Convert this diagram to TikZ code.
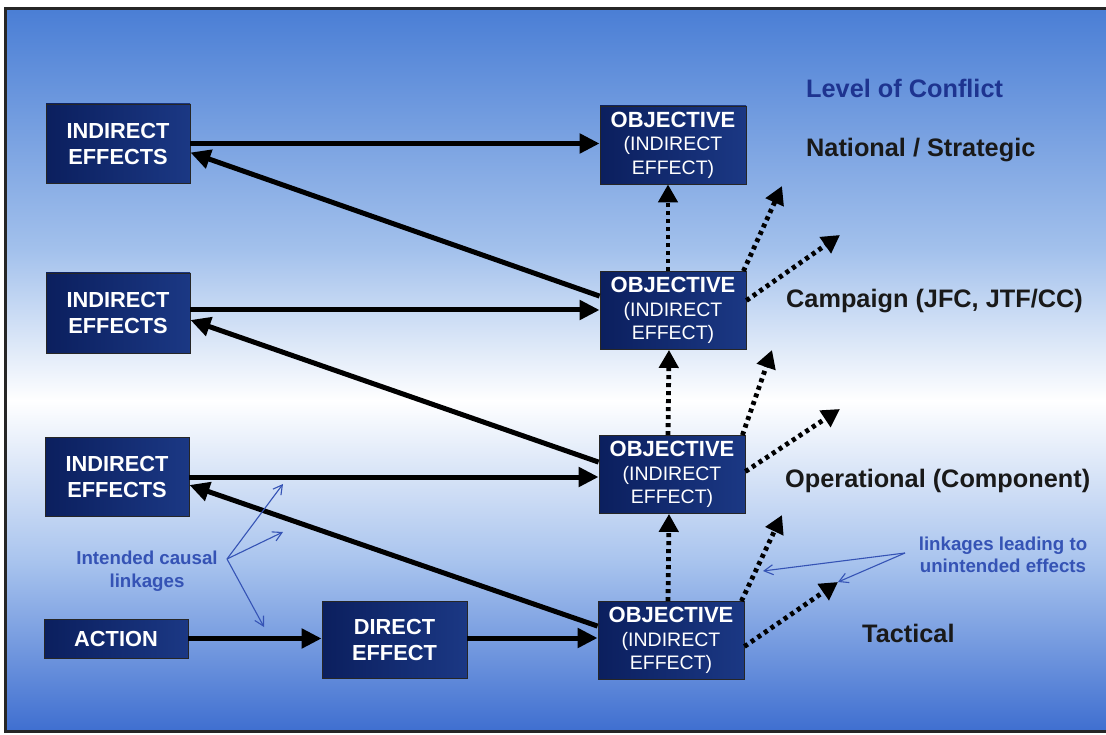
\documentclass[tikz,border=0pt]{standalone}
\usepackage{fontspec}
\setmainfont{Liberation Sans}
\usetikzlibrary{arrows.meta,calc}

\definecolor{boxL}{HTML}{0B1F5E}
\definecolor{boxR}{HTML}{1B3884}
\definecolor{skyTop}{HTML}{4A7ED5}
\definecolor{skyMid}{HTML}{A3C1EC}
\definecolor{skyLow}{HTML}{A9C4EE}
\definecolor{skyBot}{HTML}{3F6FD0}
\definecolor{noteBlue}{HTML}{3553B5}
\definecolor{levelBlue}{HTML}{1E3490}

\newcommand\objsub{\mdseries\fontsize{19.5}{23.5}\selectfont}

\tikzset{
  box/.style={draw=black!85, line width=0.8pt, left color=boxL, right color=boxR,
    text=white, align=center, inner sep=0pt,
    font=\bfseries\fontsize{21.8}{26}\selectfont},
  objbox/.style={box, minimum width=146pt, minimum height=78pt,
    font=\bfseries\fontsize{22}{23.5}\selectfont},
  mainarrow/.style={line width=5pt, -{Triangle[length=20pt,width=19pt]}},
  dotarrow/.style={line width=4.8pt, dash pattern=on 4pt off 4pt,
    -{Triangle[length=18pt,width=19pt]}},
  notearrow/.style={draw=noteBlue, line width=1.1pt, -{Straight Barb[length=9pt,width=10pt]}},
  level/.style={anchor=base west, inner sep=0pt, text=black!90,
    font=\bfseries\fontsize{25.3}{28}\selectfont},
  note/.style={align=center, inner sep=0pt, text=noteBlue,
    font=\bfseries\fontsize{18.7}{22.5}\selectfont}
}

\begin{document}
\begin{tikzpicture}[x=1pt,y=-1pt]
  % page and sky background
  \useasboundingbox (0,0) rectangle (1106,735);
  \fill[white] (0,0) rectangle (1106,735);
  \shade[top color=skyTop, bottom color=skyMid] (4,8) rectangle (1106,251);
  \shade[top color=skyMid, bottom color=white] (4,250) rectangle (1106,401);
  \shade[top color=white, bottom color=skyLow] (4,400) rectangle (1106,561);
  \shade[top color=skyLow, bottom color=skyBot] (4,560) rectangle (1106,731);
  \draw[line width=3pt, black!85] (1106,9) -- (5,9) -- (5,731) -- (1106,731);

  % boxes
  \node[box, minimum width=144pt, minimum height=79pt] (ie1) at (118,143.5) {INDIRECT\\EFFECTS};
  \node[box, minimum width=144pt, minimum height=80pt] (ie2) at (118,313) {INDIRECT\\EFFECTS};
  \node[box, minimum width=144pt, minimum height=79pt] (ie3) at (117,477) {INDIRECT\\EFFECTS};
  \node[box, minimum width=144pt, minimum height=39pt] (act) at (116,638.5) {ACTION};
  \node[box, minimum width=145pt, minimum height=77pt] (de) at (394.5,639.5) {DIRECT\\EFFECT};

  \node[objbox] (obj1) at (673,145) {OBJECTIVE\\\objsub(INDIRECT\\\objsub EFFECT)};
  \node[objbox] (obj2) at (673,310.5) {OBJECTIVE\\\objsub(INDIRECT\\\objsub EFFECT)};
  \node[objbox] (obj3) at (672,474.5) {OBJECTIVE\\\objsub(INDIRECT\\\objsub EFFECT)};
  \node[objbox] (obj4) at (671,640.5) {OBJECTIVE\\\objsub(INDIRECT\\\objsub EFFECT)};

  % intended causal linkages
  \draw[mainarrow] (ie1.east) -- (ie1.east -| obj1.west);
  \draw[mainarrow] ($(ie2.east)+(0,-3)$) -- ($(ie2.east -| obj2.west)+(0,-3)$);
  \draw[mainarrow] (ie3.east) -- (ie3.east -| obj3.west);
  \draw[mainarrow] (act.east) -- (act.east -| de.west);
  \draw[mainarrow] ($(de.east)+(0,-1.5)$) -- ($(de.east -| obj4.west)+(0,-1.5)$);
  \draw[mainarrow] ($(obj2.north west)+(0,25)$) -- ($(ie1.east)+(0,9)$);
  \draw[mainarrow] ($(obj3.north west)+(0,27)$) -- ($(ie2.east)+(0,7)$);
  \draw[mainarrow] ($(obj4.north west)+(0,25)$) -- ($(ie3.east)+(0,8)$);

  % objectives feeding the next level
  \draw[dotarrow] ($(obj4.north)+(-3,0)$) -- ($(obj3.south)+(-3,0)$);
  \draw[dotarrow] ($(obj3.north)+(-4,0)$) -- ($(obj2.south)+(-4,0)$);
  \draw[dotarrow] ($(obj2.north)+(-5,0)$) -- ($(obj1.south)+(-5,0)$);

  % linkages leading to unintended effects
  \coordinate (u2a) at (782,186);
  \coordinate (u2b) at (840,235);
  \coordinate (u3a) at (772,350);
  \coordinate (u3b) at (840,409);
  \coordinate (u4a) at (782,515);
  \coordinate (u4b) at (838,582);
  \draw[dotarrow] ($(obj2.north east)+(-3,0)$) -- (u2a);
  \draw[dotarrow] ($(obj2.east)+(0,-10)$) -- (u2b);
  \draw[dotarrow] ($(obj3.north east)+(-3,0)$) -- (u3a);
  \draw[dotarrow] ($(obj3.east)+(0,-3)$) -- (u3b);
  \draw[dotarrow] ($(obj4.north east)+(-3,0)$) -- (u4a);
  \draw[dotarrow] ($(obj4.east)+(0,6)$) -- (u4b);

  % levels of conflict
  \node[level, text=levelBlue] (lvl) at (806,98) {Level of Conflict};
  \node[level] (nat) at (806,157) {National / Strategic};
  \node[level] (cmp) at (786,308) {Campaign (JFC, JTF/CC)};
  \node[level] (opn) at (785,487) {Operational (Component)};
  \node[level] (tac) at (862,642) {Tactical};

  % annotations
  \node[note] (intended) at (147,571) {Intended causal\\linkages};
  \coordinate (iv) at (227,559);
  \coordinate (it1) at (283,484);
  \coordinate (it2) at (283,532);
  \coordinate (it3) at (264,627);
  \draw[notearrow] (iv) -- (it1);
  \draw[notearrow] (iv) -- (it2);
  \draw[notearrow] (iv) -- (it3);

  \node[note] (unintended) at (1003,555) {linkages leading to\\unintended effects};
  \coordinate (uv) at (905,553);
  \coordinate (ut1) at (763,571);
  \coordinate (ut2) at (838,582);
  \draw[notearrow] (uv) -- (ut1);
  \draw[notearrow] (uv) -- (ut2);
\end{tikzpicture}
\end{document}
